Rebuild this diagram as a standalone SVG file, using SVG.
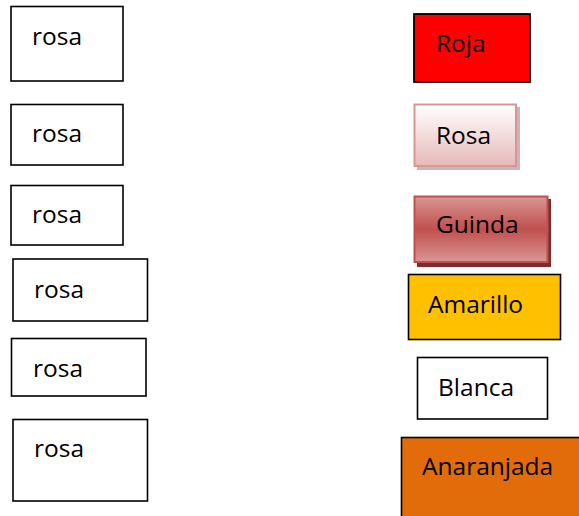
<svg xmlns="http://www.w3.org/2000/svg" width="579" height="516" viewBox="0 0 579 516">
<style>
.box{fill:#ffffff;stroke:#000000;stroke-width:1.6}
.t{font-family:"Open Sans","Liberation Sans",sans-serif;font-size:24.5px;fill:#000000}
</style>
<defs>
<linearGradient id="gRosa" x1="0" y1="0" x2="0" y2="1">
<stop offset="0" stop-color="#ffffff"/>
<stop offset="1" stop-color="#e6b9b8"/>
</linearGradient>
<linearGradient id="gGuinda" x1="0" y1="0" x2="0" y2="1">
<stop offset="0" stop-color="#d99694"/>
<stop offset="0.5" stop-color="#c0504d"/>
<stop offset="1" stop-color="#d99694"/>
</linearGradient>
</defs>
<rect width="579" height="516" fill="#ffffff"/>
<g id="rosa1"><rect class="box" x="11" y="6.5" width="112" height="74.5"/><text class="t" x="32" y="45">rosa</text></g>
<g id="rosa2"><rect class="box" x="11" y="104.5" width="112" height="60.5"/><text class="t" x="32" y="142">rosa</text></g>
<g id="rosa3"><rect class="box" x="11" y="185.5" width="112" height="59.5"/><text class="t" x="32" y="223">rosa</text></g>
<g id="rosa4"><rect class="box" x="13" y="259" width="134.5" height="62"/><text class="t" x="34" y="298">rosa</text></g>
<g id="rosa5"><rect class="box" x="11.5" y="338.5" width="134.5" height="57.5"/><text class="t" x="33" y="377">rosa</text></g>
<g id="rosa6"><rect class="box" x="13" y="419.5" width="134.5" height="81.5"/><text class="t" x="34" y="457">rosa</text></g>

<g id="roja"><rect x="414" y="14" width="116" height="68" fill="#ff0000" stroke="#000000" stroke-width="1.8"/><text class="t" x="436" y="52">Roja</text></g>
<g id="rosaR"><rect x="417" y="107" width="103" height="63" fill="#b9a5a5" opacity="0.8"/><rect x="414.5" y="104.5" width="101.5" height="61.5" fill="url(#gRosa)" stroke="#d99594" stroke-width="2"/><text class="t" x="436" y="144">Rosa</text></g>
<g id="guinda"><rect x="417" y="199" width="134" height="68" fill="#7a2e2c"/><rect x="414.5" y="196.5" width="133" height="65.5" fill="url(#gGuinda)" stroke="#c0504d" stroke-width="2"/><text class="t" x="436" y="233">Guinda</text></g>
<g id="amarillo"><rect x="408.5" y="274.5" width="152" height="65" fill="#ffc000" stroke="#000000" stroke-width="1.6"/><text class="t" x="428" y="313">Amarillo</text></g>
<g id="blanca"><rect x="417.5" y="357.5" width="130" height="61.5" fill="#ffffff" stroke="#000000" stroke-width="1.6"/><text class="t" x="438" y="396">Blanca</text></g>
<g id="anaranjada"><rect x="401.5" y="437.5" width="190" height="90" fill="#e36c0a" stroke="#000000" stroke-width="1.6"/><text class="t" x="422" y="475">Anaranjada</text></g>
<g id="connectors"></g>
</svg>
